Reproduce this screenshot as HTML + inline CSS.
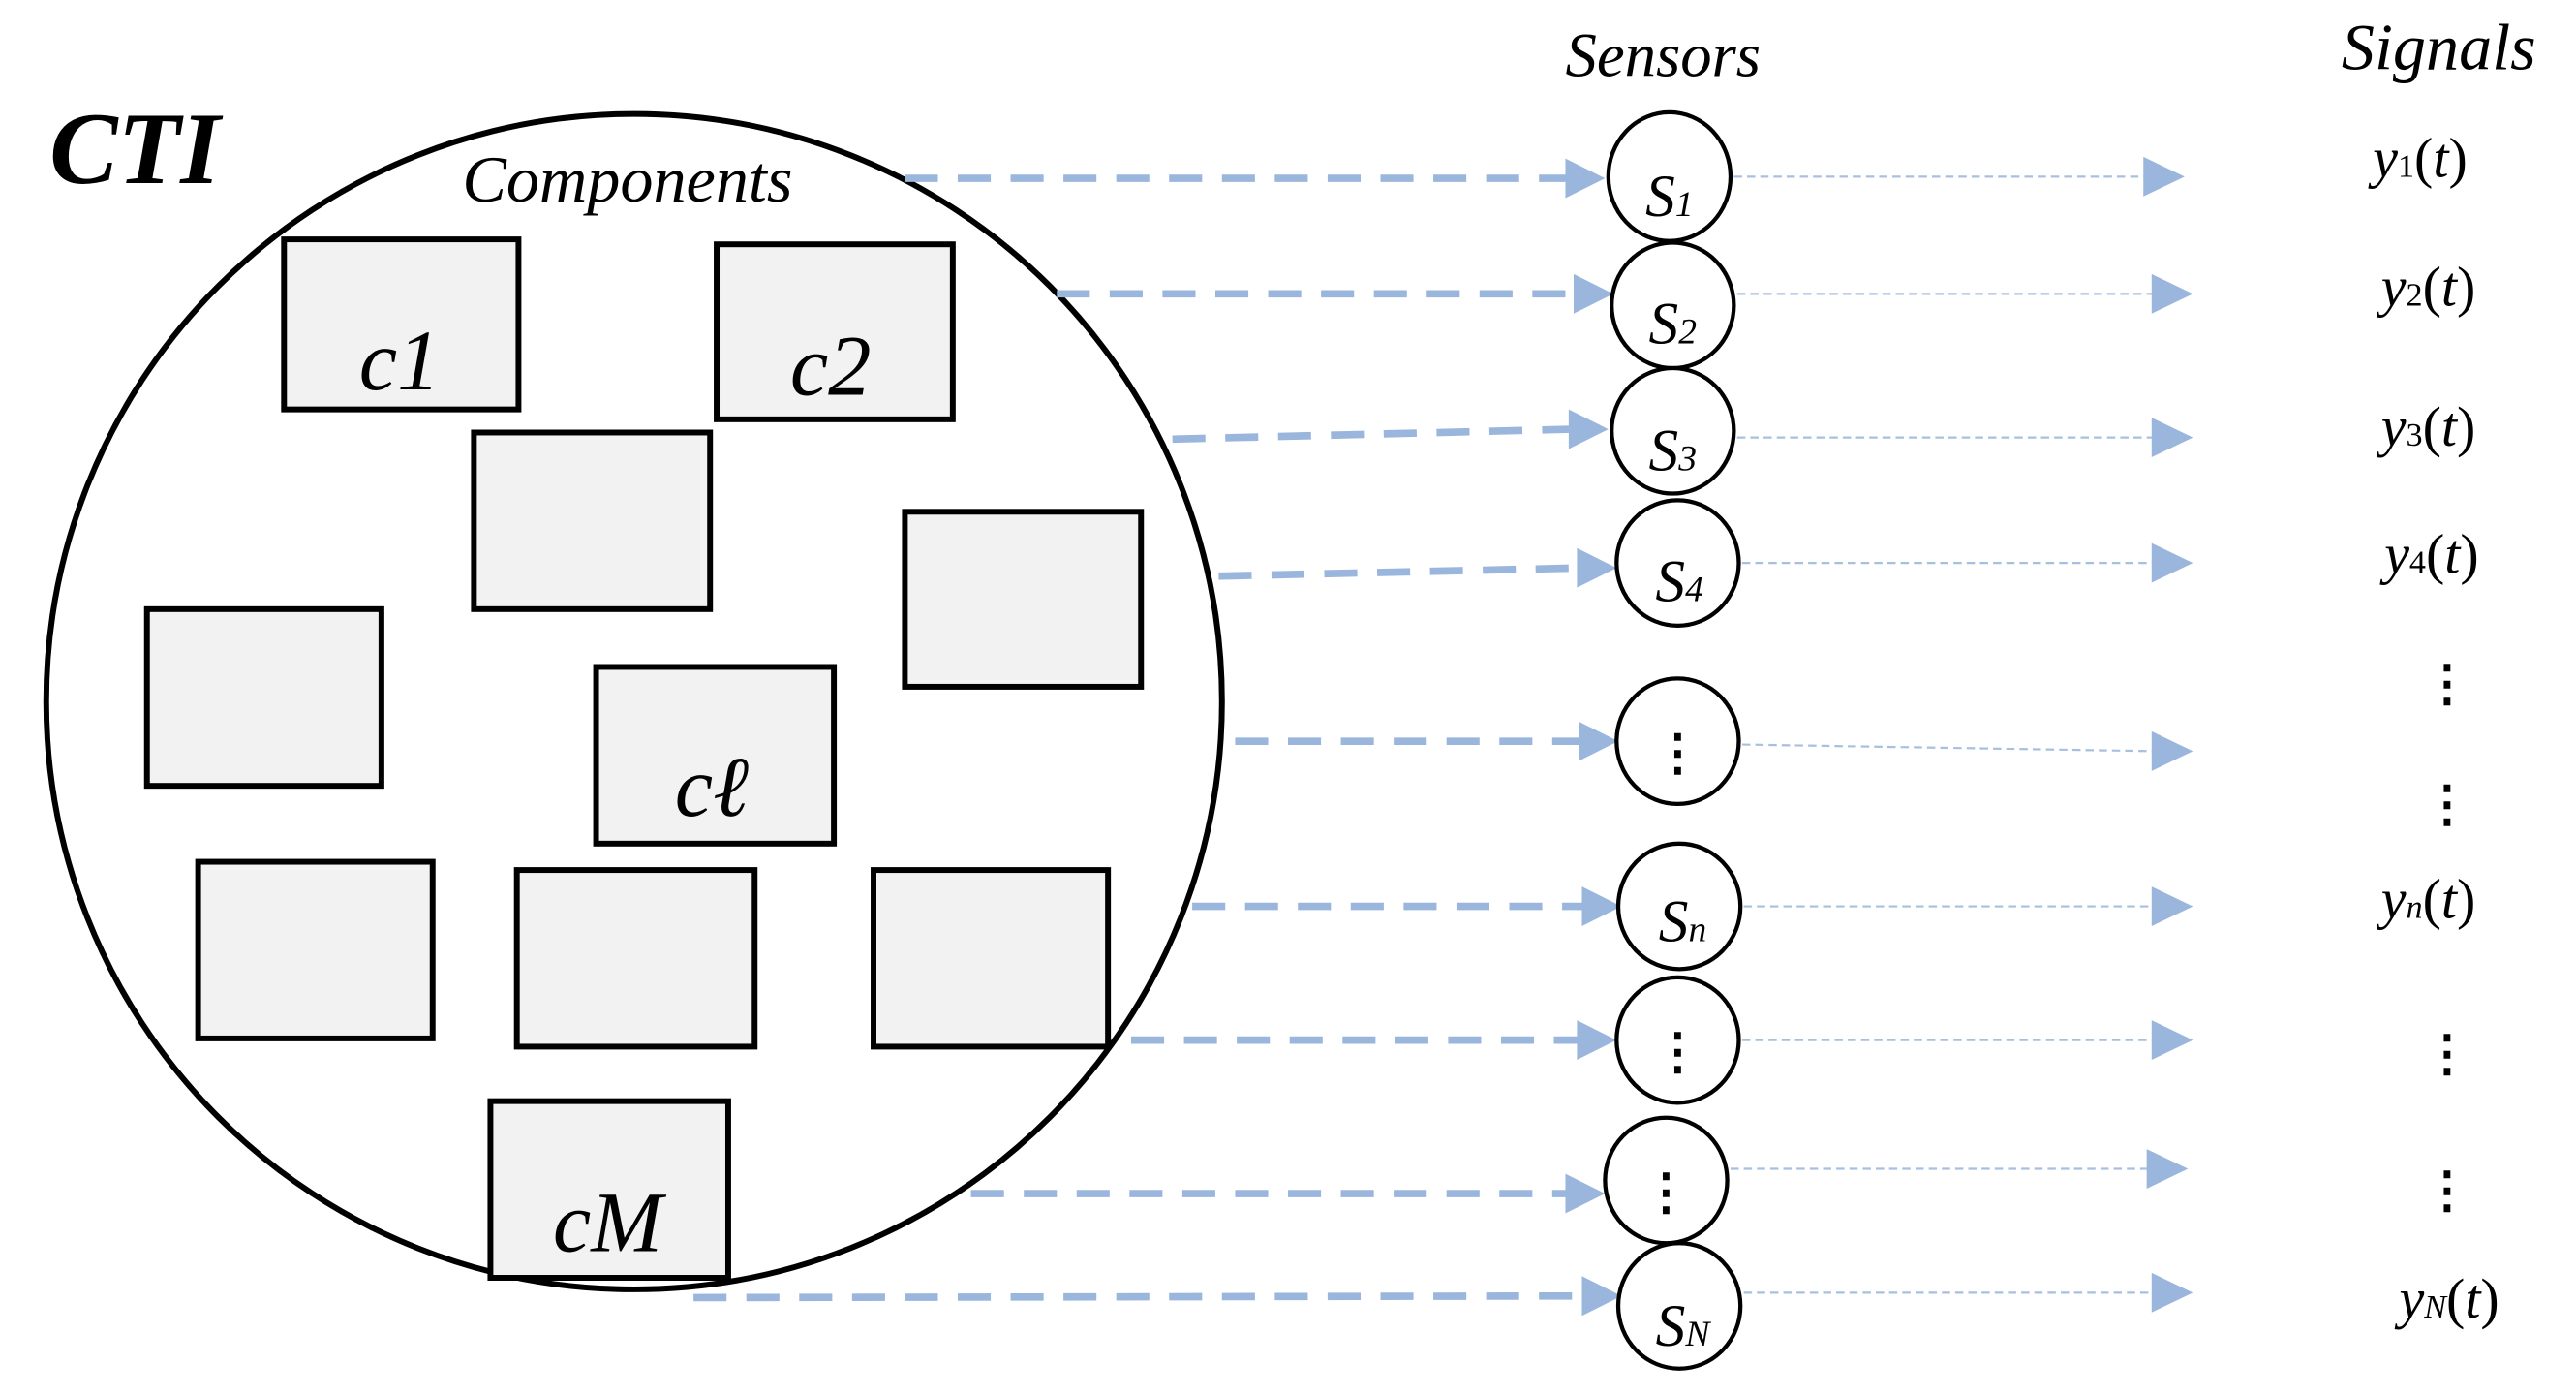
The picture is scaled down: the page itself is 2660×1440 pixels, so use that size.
<!DOCTYPE html>
<html><head><meta charset="utf-8"><style>
html,body{margin:0;padding:0;background:#fff;}
svg{display:block;}
text{font-family:"Liberation Serif",serif;}
</style></head><body>
<svg width="2660" height="1440" viewBox="0 0 1560 845" preserveAspectRatio="none" xmlns="http://www.w3.org/2000/svg">
<defs>
<marker id="ah" markerWidth="10" markerHeight="10" refX="9" refY="5" orient="auto" markerUnits="userSpaceOnUse" viewBox="0 0 10 10">
</marker>
</defs>
<text x="30" y="111" font-size="62" font-weight="bold" font-style="italic">CTI</text>
<ellipse cx="384" cy="425" rx="356" ry="356" fill="#fff" stroke="#000" stroke-width="3.5"/>
<text x="280" y="122" font-size="40" font-style="italic">Components</text>
<g fill="#f2f2f2" stroke="#000" stroke-width="3.5">
<rect x="172" y="145" width="142" height="103"/>
<rect x="434" y="148" width="143" height="106"/>
<rect x="287" y="262" width="143" height="107"/>
<rect x="548" y="310" width="143" height="106"/>
<rect x="89" y="369" width="142" height="107"/>
<rect x="361" y="404" width="144" height="107"/>
<rect x="120" y="522" width="142" height="107"/>
<rect x="313" y="527" width="144" height="107"/>
<rect x="529" y="527" width="142" height="107"/>
<rect x="297" y="667" width="144" height="107"/>
</g>
<g font-size="52" font-style="italic" text-anchor="middle">
<text x="242" y="236">c1</text>
<text x="503" y="239">c2</text>
<text x="431" y="494">cℓ</text>
<text x="368" y="758">cM</text>
</g>
<g stroke="#9ab6dc" stroke-width="4.5" stroke-dasharray="20 12" fill="none">
<line x1="548" y1="108" x2="950" y2="108"/>
<line x1="640" y1="178" x2="955" y2="178"/>
<line x1="710" y1="266" x2="952" y2="260"/>
<line x1="738" y1="349" x2="957" y2="344"/>
<line x1="748" y1="449" x2="958" y2="449"/>
<line x1="722" y1="549" x2="960" y2="549"/>
<line x1="685" y1="630" x2="957" y2="630"/>
<line x1="588" y1="723" x2="950" y2="723"/>
<line x1="420" y1="786" x2="960" y2="785"/>
</g>
<g fill="#9ab6dc">
<polygon points="948,96 972,108 948,120"/>
<polygon points="953,166 977,178 953,190"/>
<polygon points="950,248 974,260 950,272"/>
<polygon points="955,332 979,344 955,356"/>
<polygon points="956,437 980,449 956,461"/>
<polygon points="958,537 982,549 958,561"/>
<polygon points="955,618 979,630 955,642"/>
<polygon points="948,711 972,723 948,735"/>
<polygon points="958,773 982,785 958,797"/>
</g>
<g stroke="#a8c0e0" stroke-width="1.3" stroke-dasharray="5 3" fill="none">
<line x1="1050" y1="107" x2="1300" y2="107"/>
<line x1="1052" y1="178" x2="1305" y2="178"/>
<line x1="1052" y1="265" x2="1305" y2="265"/>
<line x1="1055" y1="341" x2="1305" y2="341"/>
<line x1="1055" y1="451" x2="1305" y2="455"/>
<line x1="1056" y1="549" x2="1305" y2="549"/>
<line x1="1055" y1="630" x2="1305" y2="630"/>
<line x1="1048" y1="708" x2="1302" y2="708"/>
<line x1="1056" y1="783" x2="1305" y2="783"/>
</g>
<g fill="#9ab6dc">
<polygon points="1298,95 1323,107 1298,119"/>
<polygon points="1303,166 1328,178 1303,190"/>
<polygon points="1303,253 1328,265 1303,277"/>
<polygon points="1303,329 1328,341 1303,353"/>
<polygon points="1303,443 1328,455 1303,467"/>
<polygon points="1303,537 1328,549 1303,561"/>
<polygon points="1303,618 1328,630 1303,642"/>
<polygon points="1300,696 1325,708 1300,720"/>
<polygon points="1303,771 1328,783 1303,795"/>
</g>
<g fill="#fff" stroke="#000" stroke-width="2.5">
<ellipse cx="1011" cy="107" rx="37" ry="39"/>
<ellipse cx="1013" cy="185" rx="37" ry="38"/>
<ellipse cx="1013" cy="261" rx="37" ry="38"/>
<ellipse cx="1016" cy="341" rx="37" ry="38"/>
<ellipse cx="1016" cy="449" rx="37" ry="38"/>
<ellipse cx="1017" cy="549" rx="37" ry="38"/>
<ellipse cx="1016" cy="630" rx="37" ry="38"/>
<ellipse cx="1009" cy="715" rx="37" ry="38"/>
<ellipse cx="1017" cy="791" rx="37" ry="38"/>
</g>
<g font-size="36" font-style="italic" text-anchor="middle">
<text x="1011" y="131">S<tspan font-size="22">1</tspan></text>
<text x="1013" y="208">S<tspan font-size="22">2</tspan></text>
<text x="1013" y="285">S<tspan font-size="22">3</tspan></text>
<text x="1017" y="364">S<tspan font-size="22">4</tspan></text>
<text x="1019" y="570">S<tspan font-size="22">n</tspan></text>
<text x="1019" y="815">S<tspan font-size="22">N</tspan></text>
</g>
<g font-size="30" font-weight="bold" text-anchor="middle">
<text x="1016" y="466">⋮</text>
<text x="1016" y="647">⋮</text>
<text x="1009" y="732">⋮</text>
</g>
<text x="948" y="46" font-size="38" font-style="italic">Sensors</text>
<text x="1418" y="42" font-size="40" font-style="italic">Signals</text>
<g font-size="34" font-style="italic">
<text x="1437" y="107">y<tspan font-size="20" font-style="normal">1</tspan><tspan font-style="normal">(</tspan>t<tspan font-style="normal">)</tspan></text>
<text x="1442" y="185">y<tspan font-size="20" font-style="normal">2</tspan><tspan font-style="normal">(</tspan>t<tspan font-style="normal">)</tspan></text>
<text x="1442" y="270">y<tspan font-size="20" font-style="normal">3</tspan><tspan font-style="normal">(</tspan>t<tspan font-style="normal">)</tspan></text>
<text x="1444" y="347">y<tspan font-size="20" font-style="normal">4</tspan><tspan font-style="normal">(</tspan>t<tspan font-style="normal">)</tspan></text>
<text x="1442" y="556">y<tspan font-size="20">n</tspan><tspan font-style="normal">(</tspan>t<tspan font-style="normal">)</tspan></text>
<text x="1453" y="798">y<tspan font-size="20">N</tspan><tspan font-style="normal">(</tspan>t<tspan font-style="normal">)</tspan></text>
</g>
<g font-size="30" font-weight="bold" text-anchor="middle">
<text x="1482" y="424">⋮</text>
<text x="1482" y="497">⋮</text>
<text x="1482" y="648">⋮</text>
<text x="1482" y="731">⋮</text>
</g>
</svg>
</body></html>
